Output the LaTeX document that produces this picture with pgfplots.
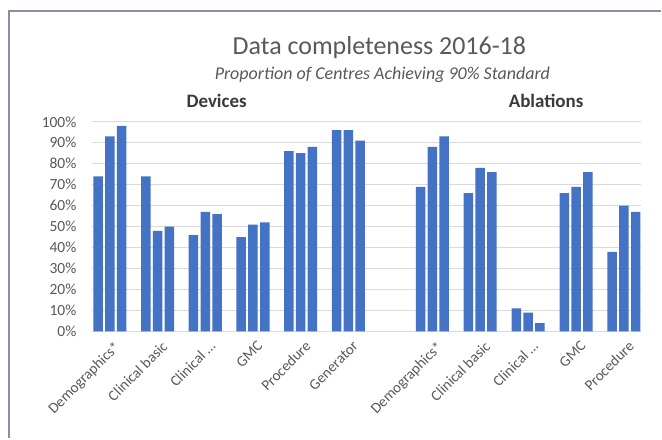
\documentclass[border=0pt]{standalone}
\usepackage{fontspec}
\setmainfont{Carlito}
\usepackage{pgfplots}
\pgfplotsset{compat=1.18}
\definecolor{barblue}{HTML}{4472C4}
\definecolor{gridgray}{HTML}{D9D9D9}
\definecolor{txtgray}{HTML}{595959}
\definecolor{framegray}{HTML}{8A8FA3}
\definecolor{headgray}{HTML}{3A3A3A}

\pgfplotstableread{
x     y
110   74
157.8 74
205.6 46
253.4 45
301.2 86
349   96
433   69
481   66
529   11
577   66
625   38
}\first
\pgfplotstableread{
x     y
110   93
157.8 48
205.6 57
253.4 51
301.2 85
349   96
433   88
481   78
529   9
577   69
625   60
}\second
\pgfplotstableread{
x     y
110   98
157.8 50
205.6 56
253.4 52
301.2 88
349   91
433   93
481   76
529   4
577   76
625   57
}\third

\begin{document}
\begin{tikzpicture}[x=1pt,y=1pt]
\fill[white] (0,0) rectangle (662,439);
\draw[framegray, line width=2.2pt] (9,0) -- (9,428) -- (662,428);
\node[text=txtgray, font=\fontsize{26}{27}\selectfont] at (380,391) {Data completeness 2016-18};
\node[text=txtgray, font=\fontsize{18}{19}\selectfont\itshape] at (383,364) {Proportion of Centres Achieving 90\% Standard};
\node[text=headgray, font=\fontsize{19}{20}\selectfont\bfseries] at (217,338) {Devices};
\node[text=headgray, font=\fontsize{19}{20}\selectfont\bfseries] at (547,338) {Ablations};
\begin{axis}[
  at={(92pt,107pt)}, anchor=south west,
  scale only axis, width=550pt, height=210pt,
  xmin=92, xmax=642, ymin=0, ymax=100,
  ybar=2.3pt, bar width=9.5pt,
  axis line style={draw=none},
  major tick length=0pt,
  ytick={0,10,...,100},
  ymajorgrids, grid style={gridgray, line width=1pt},
  yticklabel={\pgfmathprintnumber{\tick}\%},
  /pgf/number format/assume math mode=true,
  y tick label style={font=\fontsize{15.5}{16}\selectfont, text=txtgray, xshift=-12pt},
  xtick={110,157.8,205.6,253.4,301.2,349,433,481,529,577,625},
  xticklabels={Demographics*,Clinical basic,Clinical \ldots,GMC,Procedure,Generator,Demographics*,Clinical basic,Clinical \ldots,GMC,Procedure},
  x tick label style={font=\fontsize{15}{16}\selectfont, text=txtgray, rotate=45, anchor=north east, inner sep=1pt, xshift=-2.5pt, yshift=-7.5pt},
  clip=false,
]
\addplot[fill=barblue, draw=none] table[x=x,y=y] {\first};
\addplot[fill=barblue, draw=none] table[x=x,y=y] {\second};
\addplot[fill=barblue, draw=none] table[x=x,y=y] {\third};
\end{axis}
\end{tikzpicture}
\end{document}
